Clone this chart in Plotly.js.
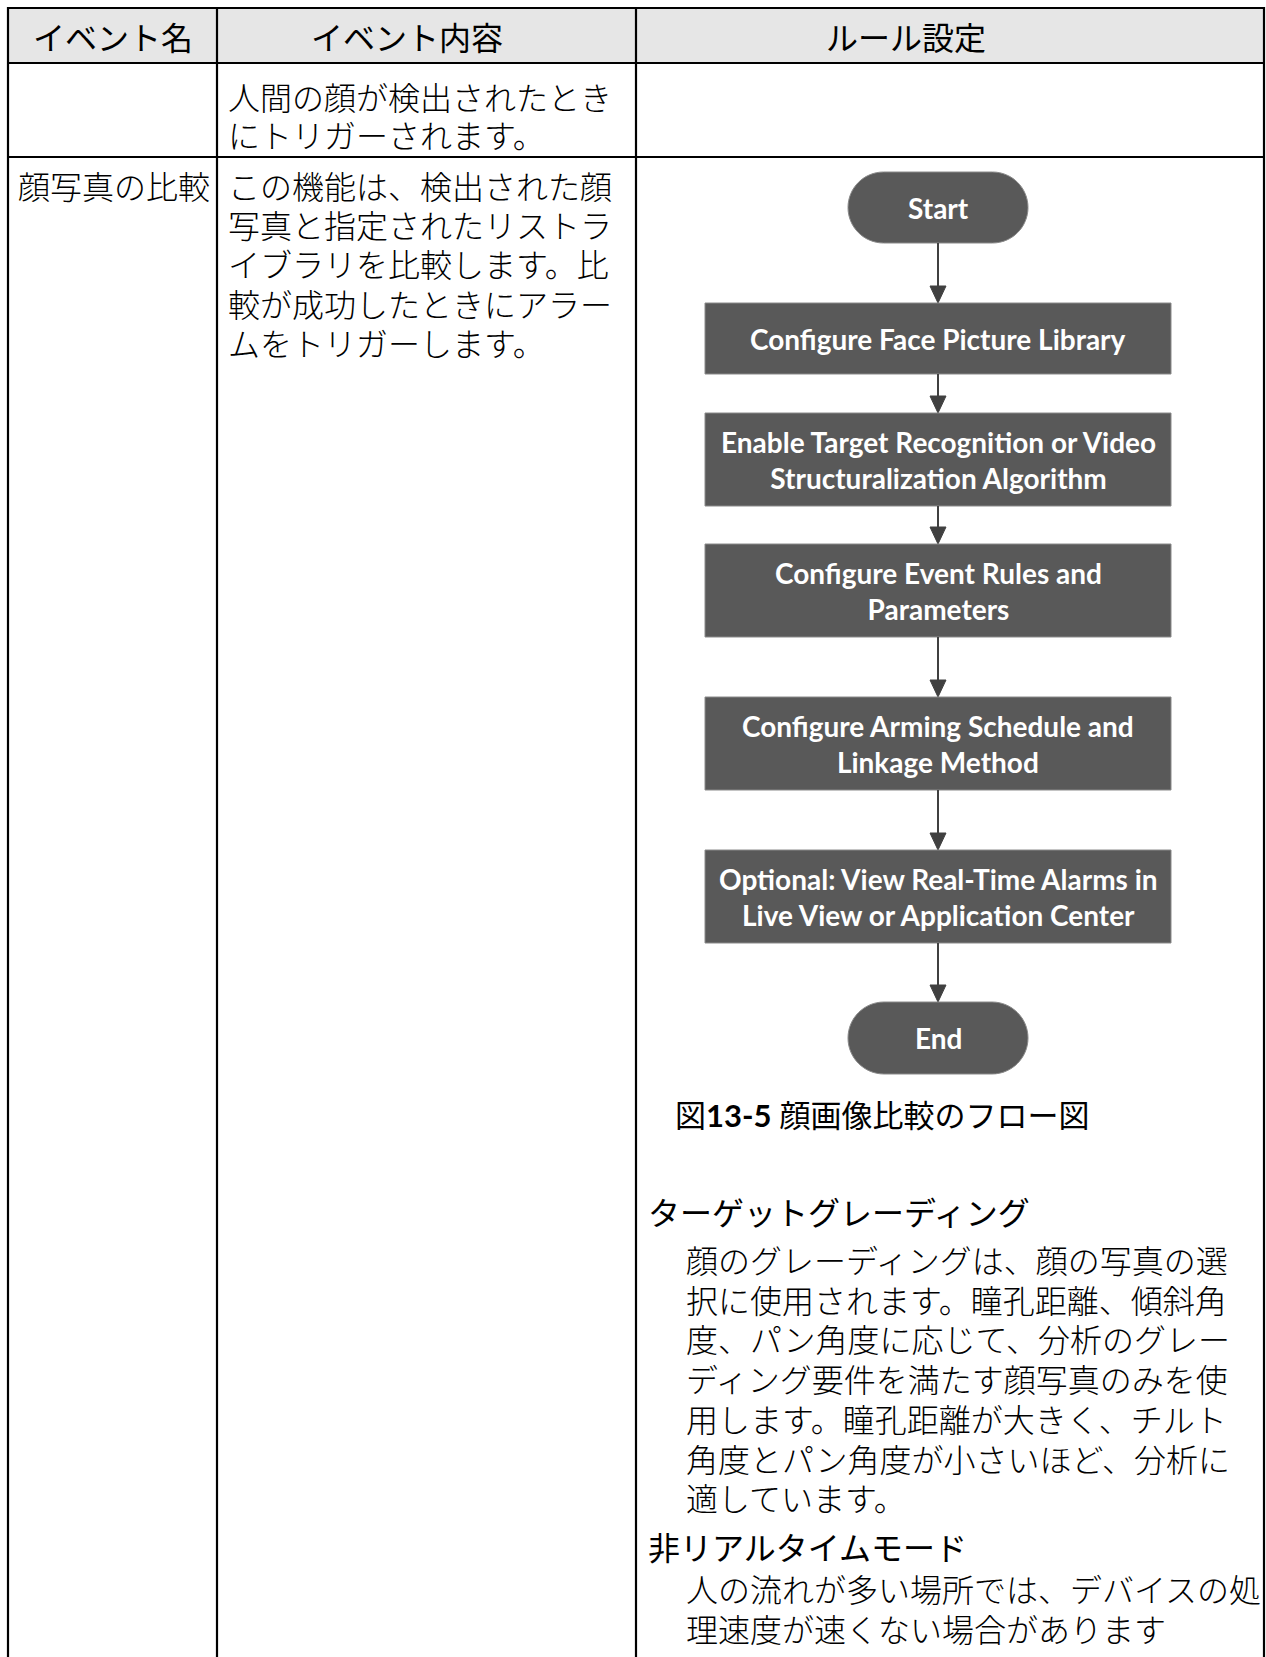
<!DOCTYPE html>
<html>
<head>
<meta charset="utf-8">
<script src="https://cdn.plot.ly/plotly-3.0.1.min.js"></script>
<style>
html,body{margin:0;padding:0;background:#fff;}
#chart{width:1266px;height:1657px;}
</style>
</head>
<body>
<div id="chart"></div>
<script>
// ---------- content (data) ----------
const headers = ['イベント名', 'イベント内容', 'ルール設定'];
const row1Content = ['人間の顔が検出されたとき', 'にトリガーされます。'];
const row2Name = ['顔写真の比較'];
const row2Content = [
  'この機能は、検出された顔',
  '写真と指定されたリストラ',
  'イブラリを比較します。比',
  '較が成功したときにアラー',
  'ムをトリガーします。'
];
const flowSteps = [
  ['Start'],
  ['Configure Face Picture Library'],
  ['Enable Target Recognition or Video', 'Structuralization Algorithm'],
  ['Configure Event Rules and', 'Parameters'],
  ['Configure Arming Schedule and', 'Linkage Method'],
  ['Optional: View Real-Time Alarms in', 'Live View or Application Center'],
  ['End']
];
const flowKinds = ['terminal', 'process', 'process', 'process', 'process', 'process', 'terminal'];
const captionText = ['図', '13-5', ' 顔画像比較のフロー図'];
const section1Title = ['ターゲットグレーディング'];
const section1Lines = [
  '顔のグレーディングは、顔の写真の選',
  '択に使用されます。瞳孔距離、傾斜角',
  '度、パン角度に応じて、分析のグレー',
  'ディング要件を満たす顔写真のみを使',
  '用します。瞳孔距離が大きく、チルト',
  '角度とパン角度が小さいほど、分析に',
  '適しています。'
];
const section2Title = ['非リアルタイムモード'];
const section2Lines = [
  '人の流れが多い場所では、デバイスの処',
  '理速度が速くない場合があります'
];

// ---------- layout geometry ----------
const W = 1266, H = 1657;
const TL = 8, TT = 8, TR = 1264, HB = 63, R1B = 157, C1 = 217, C2 = 636;
const headerX = [113, 407, 906];
const FX = 938, BOX_HW = 233, PILL_HW = 90;
const flowTops = [172, 303, 413, 544, 697, 850, 1002];
const flowBottoms = [243, 374, 506, 637, 790, 943, 1074];

const JP = "'Noto Sans CJK JP', 'Noto Sans CJK SC', sans-serif";
const EN = "Lato, 'Noto Sans CJK JP', sans-serif";
const BOXC = '#595959', ARROWC = '#404040';

const shapes = [];
const annotations = [];

function txt(x, y, text, opts) {
  opts = opts || {};
  annotations.push({
    xref: 'x', yref: 'y', x: x, y: y, text: text, showarrow: false,
    xanchor: opts.xanchor || 'left', yanchor: 'middle',
    align: opts.xanchor === 'center' ? 'center' : 'left',
    font: {family: opts.family || JP, size: opts.size || 32, color: opts.color || '#000',
           weight: opts.weight || 400},
    borderpad: 0
  });
}

// header fill
shapes.push({type: 'rect', xref: 'x', yref: 'y', x0: TL, x1: TR, y0: TT, y1: HB,
  fillcolor: '#e6e6e6', line: {width: 0}, layer: 'below'});
// horizontal rules
[TT, HB, R1B].forEach(function (y) {
  shapes.push({type: 'line', xref: 'x', yref: 'y', x0: TL - 1, x1: TR + 1, y0: y, y1: y,
    line: {color: '#000', width: 2.2}});
});
// vertical rules
[TL, C1, C2, TR].forEach(function (x) {
  shapes.push({type: 'line', xref: 'x', yref: 'y', x0: x, x1: x, y0: TT - 1, y1: H + 10,
    line: {color: '#000', width: 2.2}});
});

// header texts
headers.forEach(function (h, i) { txt(headerX[i], 36, h, {xanchor: 'center'}); });
// row 1
row1Content.forEach(function (s, i) { txt(227, 96 + 38 * i, s, {weight: 300}); });
// row 2
txt(17, 185, row2Name[0], {weight: 300});
row2Content.forEach(function (s, i) { txt(227, 185 + 39.2 * i, s, {weight: 300}); });

// flowchart
function pillPath(cx, y0, y1, hw) {
  const r = (y1 - y0) / 2, k = 0.5523 * r, xl = cx - hw + r, xr = cx + hw - r, ym = (y0 + y1) / 2;
  return 'M' + xl + ',' + y0 + ' L' + xr + ',' + y0 +
    ' C' + (xr + k) + ',' + y0 + ' ' + (xr + r) + ',' + (ym - k) + ' ' + (xr + r) + ',' + ym +
    ' C' + (xr + r) + ',' + (ym + k) + ' ' + (xr + k) + ',' + y1 + ' ' + xr + ',' + y1 +
    ' L' + xl + ',' + y1 +
    ' C' + (xl - k) + ',' + y1 + ' ' + (xl - r) + ',' + (ym + k) + ' ' + (xl - r) + ',' + ym +
    ' C' + (xl - r) + ',' + (ym - k) + ' ' + (xl - k) + ',' + y0 + ' ' + xl + ',' + y0 + ' Z';
}

flowSteps.forEach(function (lines, i) {
  const y0 = flowTops[i], y1 = flowBottoms[i];
  if (flowKinds[i] === 'terminal') {
    shapes.push({type: 'path', xref: 'x', yref: 'y', path: pillPath(FX, y0, y1, PILL_HW),
      fillcolor: BOXC, line: {color: '#8a8a8a', width: 1}});
  } else {
    shapes.push({type: 'rect', xref: 'x', yref: 'y', x0: FX - BOX_HW, x1: FX + BOX_HW, y0: y0, y1: y1,
      fillcolor: BOXC, line: {color: '#8a8a8a', width: 1}});
  }
  const ym = (y0 + y1) / 2;
  txt(FX, ym, lines.map(function (s) { return '<b>' + s + '</b>'; }).join('<br>'),
      {xanchor: 'center', family: EN, size: 28, color: '#fff'});
  // arrow to next
  if (i < flowSteps.length - 1) {
    const nt = flowTops[i + 1];
    shapes.push({type: 'line', xref: 'x', yref: 'y', x0: FX, x1: FX, y0: y1, y1: nt - 15,
      line: {color: ARROWC, width: 2}});
    shapes.push({type: 'path', xref: 'x', yref: 'y',
      path: 'M' + (FX - 8) + ',' + (nt - 17) + ' L' + (FX + 8) + ',' + (nt - 17) + ' L' + FX + ',' + nt + ' Z',
      fillcolor: ARROWC, line: {color: ARROWC, width: 1}});
  }
});

// caption
txt(674, 1115, captionText[0] + '<b>' + captionText[1] + '</b>' + captionText[2], {family: EN, size: 31});

// sections
txt(647, 1211, section1Title[0]);
section1Lines.forEach(function (s, i) { txt(685, 1259 + 39.7 * i, s, {weight: 300}); });
txt(647, 1546, section2Title[0]);
section2Lines.forEach(function (s, i) { txt(685, 1588 + 40 * i, s, {weight: 300}); });

const layout = {
  width: W, height: H,
  margin: {l: 0, r: 0, t: 0, b: 0, pad: 0},
  paper_bgcolor: '#fff', plot_bgcolor: '#fff',
  showlegend: false,
  xaxis: {range: [0, W], visible: false, fixedrange: true},
  yaxis: {range: [H, 0], visible: false, fixedrange: true},
  shapes: shapes,
  annotations: annotations
};

Plotly.newPlot('chart', [], layout, {staticPlot: true, displayModeBar: false});
</script>
</body>
</html>
